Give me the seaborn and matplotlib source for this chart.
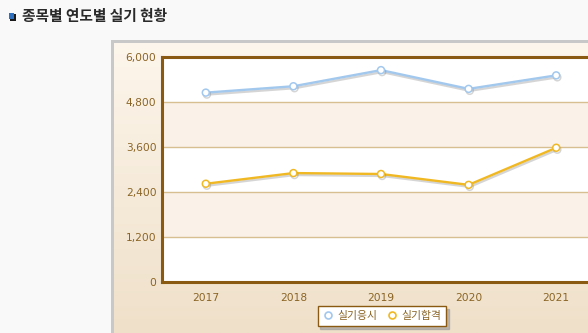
import numpy as np
import pandas as pd
import matplotlib
matplotlib.use("Agg")
import matplotlib.pyplot as plt
import matplotlib.patheffects as pe
from matplotlib.lines import Line2D
from matplotlib.patches import Rectangle
import seaborn as sns

years = [2017, 2018, 2019, 2020, 2021]
apply_vals = [5050, 5220, 5650, 5150, 5510]   # 실기응시
pass_vals = [2620, 2905, 2880, 2590, 3580]    # 실기합격
series_names = ["실기응시", "실기합격"]
y_ticks = [0, 1200, 2400, 3600, 4800, 6000]
title_text = "종목별 연도별 실기 현황"

sns.set_theme(style="white")
plt.rcParams['font.family'] = ['DejaVu Sans', 'Noto Sans CJK KR']

W, H = 588, 333
fig = plt.figure(figsize=(W / 100, H / 100), dpi=100)
fig.patch.set_facecolor("#f9f9f9")

def fx(px):
    return px / W

def fy(py):
    return 1 - py / H

# panel background with gradient
bg = fig.add_axes([fx(112), 0, 1 - fx(112), fy(40)])
grad = np.linspace(0, 1, 256).reshape(-1, 1)
c_top = np.array(matplotlib.colors.to_rgb("#fdf6ec"))
c_bot = np.array(matplotlib.colors.to_rgb("#efe0c9"))
img = c_top[None, None, :] * (1 - grad[:, :, None]) + c_bot[None, None, :] * grad[:, :, None]
bg.imshow(img, aspect="auto", extent=[0, 1, 0, 1])
bg.set_axis_off()
# gray panel border
fig.patches.append(Rectangle((fx(111), 0), fx(3), fy(40), transform=fig.transFigure,
                             facecolor="#c8c8c8", edgecolor="none", zorder=5))
fig.patches.append(Rectangle((fx(111), fy(43)), 1, fy(40) - fy(43), transform=fig.transFigure,
                             facecolor="#c8c8c8", edgecolor="none", zorder=5))

# title + icon
fig.patches.append(Rectangle((fx(10), fy(21)), fx(6), fy(14) - fy(21), transform=fig.transFigure,
                             facecolor="#1a1a1a", edgecolor="none"))
fig.patches.append(Rectangle((fx(9), fy(19)), fx(5), fy(13) - fy(19), transform=fig.transFigure,
                             facecolor="#2f6fc0", edgecolor="none"))
fig.text(fx(22), fy(16), title_text, family=['Noto Sans CJK KR'], fontsize=10.6,
         fontweight="bold", color="#2a2a2a", va="center", ha="left")

# main axes
ax = fig.add_axes([fx(162), fy(282), fx(600) - fx(162), fy(57) - fy(282)])
ax.set_facecolor("white")
for lo, hi in [(1200, 2400), (3600, 4800)]:
    ax.axhspan(lo, hi, color="#faf1e8", zorder=0, lw=0)
for t in y_ticks[1:-1]:
    ax.axhline(t, color="#d8bf92", lw=1.0, zorder=1)

df = pd.DataFrame({
    "year": years * 2,
    "value": apply_vals + pass_vals,
    "series": [series_names[0]] * len(years) + [series_names[1]] * len(years),
})
colors = {series_names[0]: "#a2c8ee", series_names[1]: "#f0b823"}
sns.lineplot(data=df, x="year", y="value", hue="series", palette=colors, ax=ax,
             marker="o", legend=False, lw=1.7, zorder=3)
for line in ax.get_lines():
    if len(np.asarray(line.get_xdata())) == 5:
        c = line.get_color()
        line.set_markerfacecolor("white")
        line.set_markeredgecolor(c)
        line.set_markersize(5.0)
        line.set_markeredgewidth(1.1)
        line.set_path_effects([pe.SimpleLineShadow(offset=(0.8, -1.4), shadow_color="#777777", alpha=0.3),
                               pe.Normal()])

ax.set_xlim(2016.5, 2021.5)
ax.set_ylim(0, 6000)
ax.set_xticks(years)
ax.set_xticklabels([str(y) for y in years])
ax.set_yticks(y_ticks)
ax.set_yticklabels([f"{t:,}" for t in y_ticks])
ax.set_xlabel("")
ax.set_ylabel("")
ax.tick_params(axis="both", length=0, labelsize=7.7, colors="#8a6424")
ax.tick_params(axis="y", pad=4)
ax.tick_params(axis="x", pad=8)
for s in ["left", "bottom", "top"]:
    ax.spines[s].set_color("#8b5a12")
    ax.spines[s].set_linewidth(2.2)
ax.spines["right"].set_visible(False)

handles = [Line2D([], [], ls="none", marker="o", markerfacecolor="white",
                  markeredgecolor=colors[n], markeredgewidth=1.2, markersize=5) for n in series_names]
leg = fig.legend(handles, series_names, loc="center", bbox_to_anchor=(fx(382), fy(316)),
                 ncol=2, frameon=True, fancybox=False, shadow={"color": "#999999", "alpha": 0.6},
                 handletextpad=0.4, columnspacing=0.8, handlelength=1.0,
                 borderpad=0.45, prop={"family": ["Noto Sans CJK KR"], "size": 7.8})
leg.get_frame().set_edgecolor("#8b5a12")
leg.get_frame().set_linewidth(1.0)
for t in leg.get_texts():
    t.set_color("#8a6424")

fig.savefig("out.png", dpi=100, facecolor=fig.get_facecolor())
